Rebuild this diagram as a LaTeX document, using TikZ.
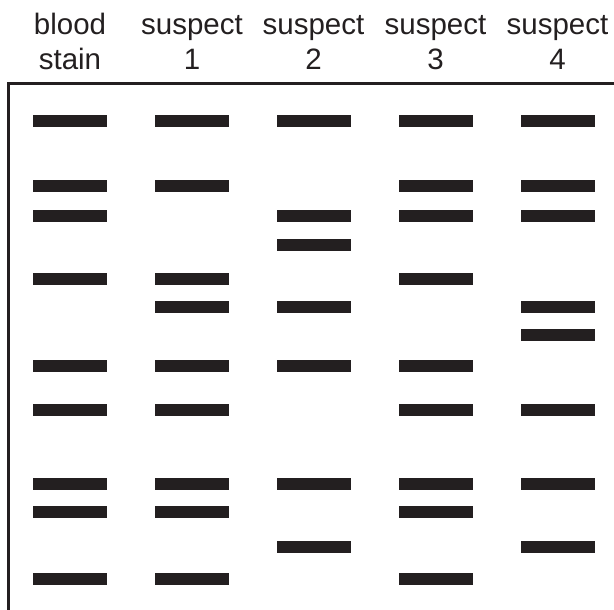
\documentclass[tikz,border=0pt]{standalone}
\usepackage{fontspec}
\newfontfamily\labfont{Liberation Sans}
\definecolor{ink}{HTML}{231F20}
\begin{document}
\begin{tikzpicture}[x=1pt,y=-1pt,
  band/.style={rectangle,fill=ink,draw=none,inner sep=0pt,minimum width=74pt,minimum height=12pt},
  lab/.style={anchor=base,inner sep=0pt,text=ink,font=\labfont\fontsize{29.5}{34}\selectfont},
  frame/.style={draw=ink,line width=2.5pt}]
\useasboundingbox (0,0) rectangle (614,610);
% labels
\node[lab] (l1a) at (70,35) {blood};
\node[lab] (l1b) at (70,70) {stain};
\node[lab] (l2a) at (192,35) {suspect};
\node[lab] (l2b) at (192,70) {1};
\node[lab] (l3a) at (313.5,35) {suspect};
\node[lab] (l3b) at (313.5,70) {2};
\node[lab] (l4a) at (435.5,35) {suspect};
\node[lab] (l4b) at (435.5,70) {3};
\node[lab] (l5a) at (557.5,35) {suspect};
\node[lab] (l5b) at (557.5,70) {4};
% frame
\coordinate (fbl) at (8.5,613);
\coordinate (ftl) at (8.5,83.5);
\coordinate (ftr) at (617,83.5);
\draw[frame] (fbl) -- (ftl) -- (ftr);
% bands
\foreach \y [count=\i] in {121,186,216,279,366,410,484,512,579}
  \node[band] (b0-\i) at (70,\y) {};
\foreach \y [count=\i] in {121,186,279,307,366,410,484,512,579}
  \node[band] (b1-\i) at (192,\y) {};
\foreach \y [count=\i] in {121,216,245,307,366,484,547}
  \node[band] (b2-\i) at (314,\y) {};
\foreach \y [count=\i] in {121,186,216,279,366,410,484,512,579}
  \node[band] (b3-\i) at (436,\y) {};
\foreach \y [count=\i] in {121,186,216,307,335,410,484,547}
  \node[band] (b4-\i) at (558,\y) {};
\end{tikzpicture}
\end{document}
